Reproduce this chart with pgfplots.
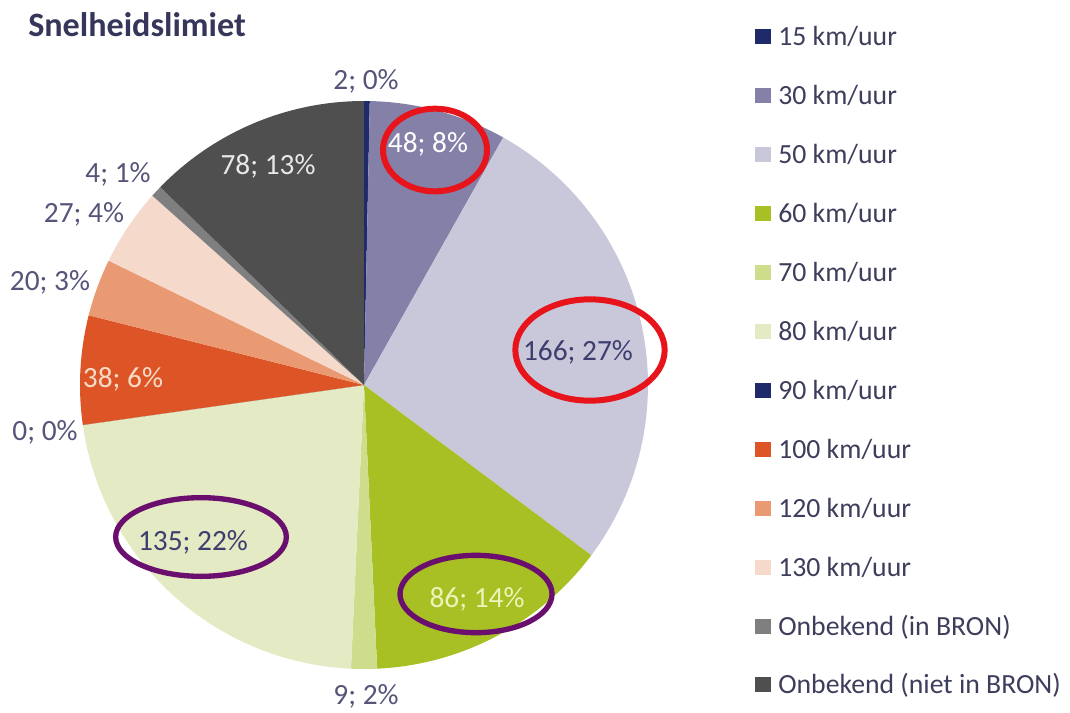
\documentclass[border=0pt]{standalone}
\usepackage{pgfplots}
\pgfplotsset{compat=1.18}
\usepackage{pgfplotstable}
\usepackage{fontspec}
\setmainfont{Carlito}

\definecolor{c15}{HTML}{1F2A6B}
\definecolor{c30}{HTML}{8580A8}
\definecolor{c50}{HTML}{C9C8DA}
\definecolor{c60}{HTML}{A8C023}
\definecolor{c70}{HTML}{CEDD8C}
\definecolor{c80}{HTML}{E4EBC4}
\definecolor{c90}{HTML}{1F2A6B}
\definecolor{c100}{HTML}{DD5526}
\definecolor{c120}{HTML}{E99A73}
\definecolor{c130}{HTML}{F5D9CB}
\definecolor{cin}{HTML}{7F7F7F}
\definecolor{cniet}{HTML}{4F4F4F}
\definecolor{lout}{HTML}{55557A}
\definecolor{ldark}{HTML}{3E3E6E}
\definecolor{l60}{HTML}{EEF3B8}
\definecolor{l100}{HTML}{F6DCC8}
\definecolor{l78}{HTML}{E8E8E8}
\definecolor{legtext}{HTML}{3D3D5C}
\definecolor{titlecol}{HTML}{36365A}
\definecolor{ringred}{HTML}{E8141C}
\definecolor{ringpurple}{HTML}{6A0F6E}

\tikzset{
  lbl/.style={font=\fontsize{22}{26}\selectfont},
  leg/.style={font=\fontsize{20.8}{25}\selectfont, text=legtext},
}

% name, value, percentage, colour, label position (pixels), label colour
\pgfplotstableread[col sep=comma]{
name,value,pct,col,lx,ly,lcol
15 km/uur,2,0,c15,366,90,lout
30 km/uur,48,8,c30,428,153,white
50 km/uur,166,27,c50,578,360,ldark
60 km/uur,86,14,c60,477,607,l60
70 km/uur,9,2,c70,366,704,lout
80 km/uur,135,22,c80,193,550,ldark
90 km/uur,0,0,c90,45,440,lout
100 km/uur,38,6,c100,123,387,l100
120 km/uur,20,3,c120,50,290,lout
130 km/uur,27,4,c130,84,222,lout
Onbekend (in BRON),4,1,cin,118,182,lout
Onbekend (niet in BRON),78,13,cniet,268,175,l78
}\pietable

\begin{document}
\begin{tikzpicture}
\begin{axis}[x=0.75pt, y=0.75pt, xmin=0, xmax=1070, ymin=0, ymax=709,
  y dir=reverse, hide axis, clip=false]
\path (axis cs:0,0) rectangle (axis cs:1070,709);
% total
\def\total{0}
\pgfplotsforeachungrouped \i in {0,...,11}{%
  \pgfplotstablegetelem{\i}{value}\of\pietable
  \pgfmathsetmacro\total{\total+\pgfplotsretval}%
}
% wedges
\def\angstart{90}
\pgfplotsforeachungrouped \i in {0,...,11}{%
  \pgfplotstablegetelem{\i}{value}\of\pietable\let\pv\pgfplotsretval
  \pgfplotstablegetelem{\i}{col}\of\pietable\let\pc\pgfplotsretval
  \pgfmathsetmacro\angend{\angstart-(\pv/\total)*360}%
  \edef\temp{\noexpand\fill[\pc] (axis cs:364,385) -- ([shift={(\angstart:213pt)}]axis cs:364,385) arc[start angle=\angstart, end angle=\angend, radius=213pt] -- cycle;}%
  \temp
  \let\angstart\angend
}
% labels and legend
\pgfplotsforeachungrouped \i in {0,...,11}{%
  \pgfplotstablegetelem{\i}{value}\of\pietable\let\pv\pgfplotsretval
  \pgfplotstablegetelem{\i}{pct}\of\pietable\let\pp\pgfplotsretval
  \pgfplotstablegetelem{\i}{col}\of\pietable\let\pc\pgfplotsretval
  \pgfplotstablegetelem{\i}{lx}\of\pietable\let\plx\pgfplotsretval
  \pgfplotstablegetelem{\i}{ly}\of\pietable\let\ply\pgfplotsretval
  \pgfplotstablegetelem{\i}{lcol}\of\pietable\let\plc\pgfplotsretval
  \pgfplotstablegetelem{\i}{name}\of\pietable\let\pn\pgfplotsretval
  \pgfmathsetmacro\yc{37+58.9*\i}%
  \pgfmathsetmacro\ya{\yc-7.5}%
  \pgfmathsetmacro\yb{\yc+7.5}%
  \pgfmathsetmacro\yt{\yc+9}%
  \edef\temp{\noexpand\node[lbl, text=\plc, anchor=base] at (axis cs:\plx,\ply) {\pv; \pp\noexpand\%};
    \noexpand\fill[\pc] (axis cs:755,\ya) rectangle (axis cs:771,\yb);
    \noexpand\node[leg, anchor=base west, inner sep=0pt] at (axis cs:778,\yt) {\pn};}%
  \temp
}
% title
\node[anchor=base west, inner sep=0pt, text=titlecol, font=\fontsize{25.6}{30}\selectfont\bfseries] at (axis cs:28,37) {Snelheidslimiet};
% hand-drawn rings
\draw[ringred, line width=4.5pt] (axis cs:435,150) ellipse [x radius=39pt, y radius=31pt];
\draw[ringred, line width=4.5pt] (axis cs:590,350) ellipse [x radius=56pt, y radius=38pt];
\draw[ringpurple, line width=4pt] (axis cs:201,537) ellipse [x radius=64pt, y radius=29.5pt];
\draw[ringpurple, line width=4pt] (axis cs:476,594) ellipse [x radius=57pt, y radius=29pt];
\end{axis}
\end{tikzpicture}
\end{document}
